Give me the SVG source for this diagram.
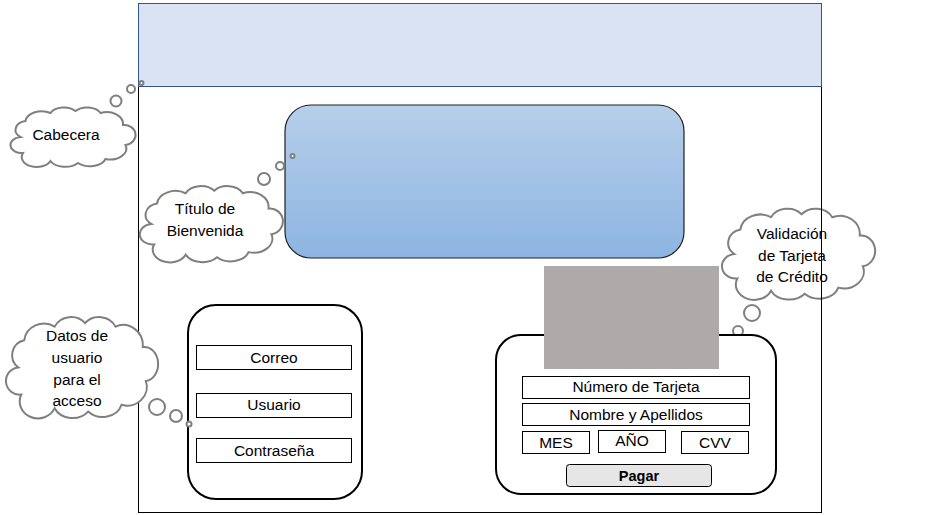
<svg xmlns="http://www.w3.org/2000/svg" xmlns:xlink="http://www.w3.org/1999/xlink" width="926" height="515" viewBox="0 0 926 515">
<style>
text{font-family:"Liberation Sans",Arial,sans-serif;font-size:15.5px;fill:#000;text-anchor:middle}
.field{fill:#fff;stroke:#000;stroke-width:1}
.panel{fill:#fff;stroke:#000;stroke-width:2}
.cloud{fill:#fff;stroke:#7f7f7f;stroke-width:2;vector-effect:non-scaling-stroke}
.bub{fill:#fff;stroke:#7f7f7f;stroke-width:2}
</style>
<defs>
<linearGradient id="g1" x1="0" y1="0" x2="0" y2="1">
<stop offset="0" stop-color="#b6cfea"/>
<stop offset="1" stop-color="#8db4e2"/>
</linearGradient>
<path id="cloud" class="cloud" d="M10,32 A10,9 0 0 1 14,16 A13,11 0 0 1 34,8 A12,10 0 0 1 54,6 A12,10 0 0 1 74,8 A13,12 0 0 1 92,20 A9,10 0 0 1 94,40 A13,11 0 0 1 78,54 A13,10 0 0 1 56,58 A13,10 0 0 1 34,56 A12,10 0 0 1 12,48 A9,8 0 0 1 10,32 Z"/>
</defs>
<rect width="926" height="515" fill="#fff"/>

<g id="cloud-validacion">
<use xlink:href="#cloud" transform="translate(719,205) scale(1.53,1.53)"/>
<circle class="bub" cx="752" cy="313" r="8"/>
<circle class="bub" cx="738" cy="331" r="5"/>
<circle class="bub" cx="727" cy="344" r="2.5"/>
<text x="792" y="239">Validación</text>
<text x="792" y="261">de Tarjeta</text>
<text x="792" y="282">de Crédito</text>
</g>

<g id="frame">
<rect x="138.5" y="3.5" width="683" height="509" fill="none" stroke="#000" stroke-width="1"/>
</g>
<g id="header">
<rect x="138.5" y="3.5" width="683" height="83" fill="#dae3f3" stroke="#2f5597" stroke-width="1"/>
</g>

<g id="welcome">
<rect x="285" y="105" width="399" height="153" rx="26" fill="url(#g1)" stroke="#1f1f1f" stroke-width="1.2"/>
</g>

<g id="login">
<rect class="panel" x="188" y="305" width="174" height="194" rx="28"/>
<rect class="field" x="196.5" y="345.5" width="155" height="24"/>
<text x="274" y="363">Correo</text>
<rect class="field" x="196.5" y="393.5" width="155" height="24"/>
<text x="274" y="410">Usuario</text>
<rect class="field" x="196.5" y="438.5" width="155" height="24"/>
<text x="274" y="456">Contraseña</text>
</g>

<g id="payment">
<rect class="panel" x="496" y="335" width="280" height="159" rx="25"/>
<rect x="544" y="266" width="175" height="103" fill="#aeaaaa"/>
<rect class="field" x="522.5" y="376.5" width="227" height="22"/>
<text x="636" y="392">Número de Tarjeta</text>
<rect class="field" x="522.5" y="403.5" width="227" height="22"/>
<text x="636" y="420">Nombre y Apellidos</text>
<rect class="field" x="522.5" y="431.5" width="67" height="22"/>
<text x="556" y="448">MES</text>
<rect class="field" x="598.5" y="430.5" width="67" height="22"/>
<text x="632" y="446">AÑO</text>
<rect class="field" x="681.5" y="431.5" width="67" height="22"/>
<text x="715" y="448">CVV</text>
<rect x="566.5" y="464.5" width="145" height="22" rx="3" fill="#e7e6e6" stroke="#000" stroke-width="1"/>
<text x="639" y="481" style="font-weight:bold;font-size:14.5px">Pagar</text>
</g>

<g id="cloud-cabecera">
<use xlink:href="#cloud" transform="translate(8,105) scale(1.25,1)"/>
<circle class="bub" cx="116" cy="101" r="5.5"/>
<circle class="bub" cx="131" cy="89" r="4"/>
<circle class="bub" cx="141.5" cy="83" r="2"/>
<text x="66" y="140">Cabecera</text>
</g>

<g id="cloud-titulo">
<use xlink:href="#cloud" transform="translate(137,183) scale(1.43,1.28)"/>
<circle class="bub" cx="264" cy="179" r="6"/>
<circle class="bub" cx="280" cy="166" r="4"/>
<circle class="bub" cx="292.5" cy="156" r="2"/>
<text x="205" y="214">Título de</text>
<text x="205" y="236">Bienvenida</text>
</g>

<g id="cloud-datos">
<use xlink:href="#cloud" transform="translate(3,313) scale(1.52,1.7)"/>
<circle class="bub" cx="157" cy="407" r="8"/>
<circle class="bub" cx="176" cy="416" r="6"/>
<circle class="bub" cx="189" cy="424" r="2.5"/>
<text x="77" y="341">Datos de</text>
<text x="77" y="363">usuario</text>
<text x="77" y="385">para el</text>
<text x="77" y="406">acceso</text>
</g>
</svg>
